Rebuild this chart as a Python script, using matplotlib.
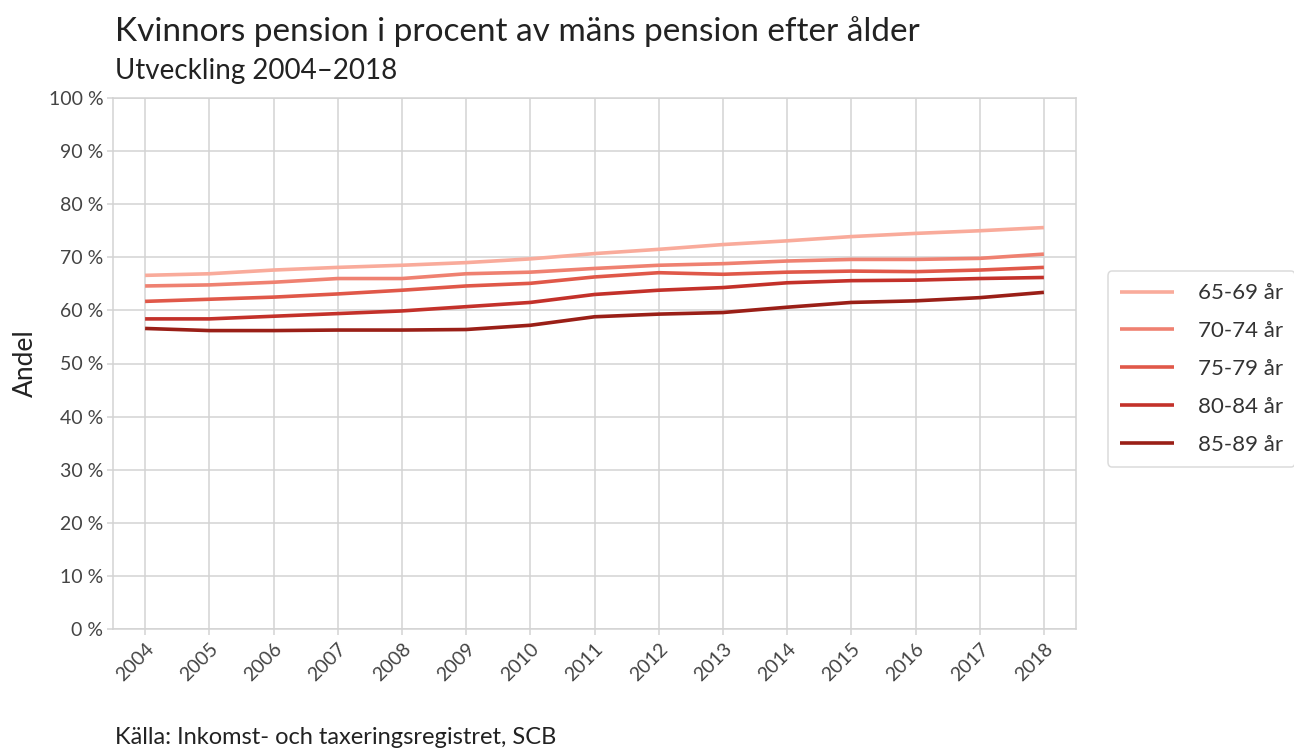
import matplotlib
matplotlib.use("Agg")
import matplotlib.pyplot as plt
from matplotlib.ticker import FuncFormatter

years = list(range(2004, 2019))
age_groups = ["65-69 år", "70-74 år", "75-79 år", "80-84 år", "85-89 år"]
s65_69 = [66.6, 66.9, 67.6, 68.1, 68.5, 69.0, 69.7, 70.7, 71.5, 72.4, 73.1, 73.9, 74.5, 75.0, 75.6]
s70_74 = [64.6, 64.8, 65.3, 66.0, 66.0, 66.9, 67.2, 67.9, 68.5, 68.8, 69.3, 69.6, 69.6, 69.8, 70.6]
s75_79 = [61.7, 62.1, 62.5, 63.1, 63.8, 64.6, 65.1, 66.3, 67.1, 66.8, 67.2, 67.4, 67.3, 67.6, 68.1]
s80_84 = [58.4, 58.4, 58.9, 59.4, 59.9, 60.7, 61.5, 63.0, 63.8, 64.3, 65.2, 65.6, 65.7, 66.0, 66.2]
s85_89 = [56.6, 56.2, 56.2, 56.3, 56.3, 56.4, 57.2, 58.8, 59.3, 59.6, 60.6, 61.5, 61.8, 62.4, 63.4]
series = [s65_69, s70_74, s75_79, s80_84, s85_89]
colors = ["#f9ab9b", "#ef8171", "#e05849", "#c3312a", "#9a1f17"]

plt.rcParams['font.family'] = ['Lato', 'DejaVu Sans']

W, H = 1294, 751
fig = plt.figure(figsize=(W / 100, H / 100), dpi=100)
ax = fig.add_axes([113 / W, 1 - 629 / H, (1076 - 113) / W, (629 - 98) / H])

for vals, lab, c in zip(series, age_groups, colors):
    ax.plot(years, vals, color=c, lw=2.6, label=lab, solid_capstyle='butt')

ax.set_xlim(2003.5, 2018.5)
ax.set_ylim(0, 100)
ax.set_xticks(years)
ax.set_xticklabels([str(y) for y in years], rotation=45, ha='right', rotation_mode='anchor')
ax.set_yticks(range(0, 101, 10))
ax.yaxis.set_major_formatter(FuncFormatter(lambda v, p: f"{int(v)} %"))
ax.grid(True, color='#d3d3d3', lw=1.1)
ax.set_axisbelow(True)
for sp in ax.spines.values():
    sp.set_color('#d3d3d3')
    sp.set_linewidth(1.1)
ax.tick_params(axis='both', colors='#d3d3d3', labelcolor='#444444', labelsize=14, length=4, width=1.1)
ax.tick_params(axis='x', pad=4)
ax.tick_params(axis='y', pad=3)
ax.set_ylabel("Andel", fontsize=19, color='#222222', labelpad=8)

fig.text(115 / W, 1 - 32 / H, "Kvinnors pension i procent av mäns pension efter ålder",
         fontsize=24, color='#222222', va='center', ha='left')
fig.text(115 / W, 1 - 71 / H, "Utveckling 2004\u20132018",
         fontsize=20, color='#222222', va='center', ha='left')
fig.text(115 / W, 1 - 738 / H, "Källa: Inkomst- och taxeringsregistret, SCB",
         fontsize=17, color='#222222', va='center', ha='left')

leg = fig.legend(loc='center left', bbox_to_anchor=(1108 / W, 1 - 369 / H), fontsize=16,
                 frameon=True, edgecolor='#d3d3d3', handlelength=2.4, labelspacing=0.8,
                 borderpad=0.55, handletextpad=1.1, fancybox=True, borderaxespad=0)
leg.get_frame().set_linewidth(1.1)
for t in leg.get_texts():
    t.set_color('#333333')

fig.savefig("out.png", dpi=100)
